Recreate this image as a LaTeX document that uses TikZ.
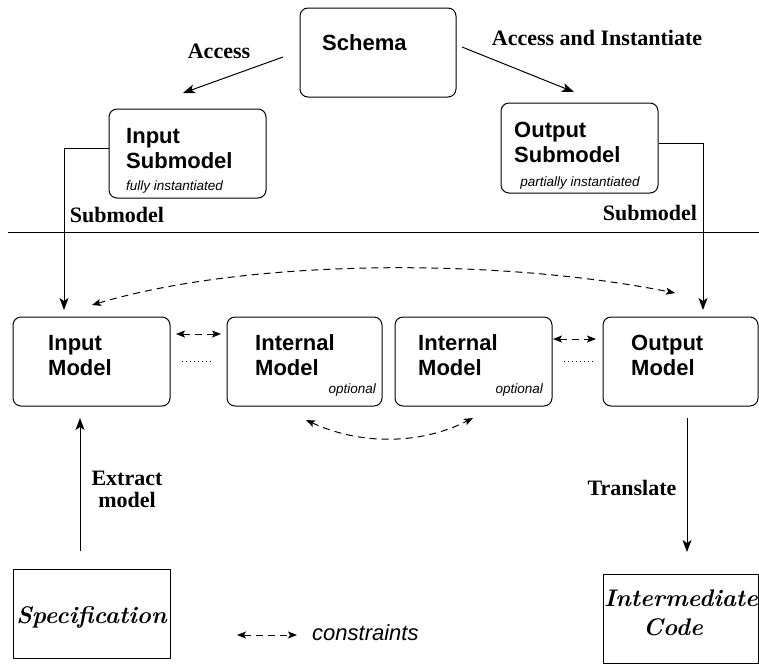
\documentclass[tikz,border=0pt]{standalone}
\usepackage{fontspec}
\newfontfamily\serifb{Liberation Serif}
\newfontfamily\sansf{Liberation Sans}
\usetikzlibrary{arrows.meta}
\begin{document}
\begin{tikzpicture}[x=1pt,y=-1pt,
 box/.style={draw, line width=1pt, rounded corners=8pt, inner sep=0pt},
 plainbox/.style={draw, line width=1pt, inner sep=0pt},
 lab/.style={inner sep=0pt, anchor=base west, font=\sansf\bfseries\fontsize{22}{25}\selectfont},
 small/.style={inner sep=0pt, font=\sansf\itshape\fontsize{13.5}{15}\selectfont},
 elab/.style={inner sep=0pt, anchor=base, font=\serifb\bfseries\fontsize{22}{25}\selectfont},
 ital/.style={inner sep=0pt, anchor=base, font=\bfseries\itshape\fontsize{24}{28}\selectfont},
 arr/.style={line width=1pt, -{Stealth[length=12pt,width=9pt,inset=3pt]}},
 darr/.style={line width=1pt, dash pattern=on 7pt off 5pt, {Stealth[length=9pt,width=7pt,inset=2pt]}-{Stealth[length=9pt,width=7pt,inset=2pt]}},
 dotl/.style={line width=0.6pt, dash pattern=on 1pt off 3pt}
 ]
\useasboundingbox (0,0) rectangle (759,665);

% boxes
\node[box, minimum width=156pt, minimum height=89pt] (schema) at (378,52.5) {};
\node[box, minimum width=157pt, minimum height=89pt] (insub) at (187.5,153.5) {};
\node[box, minimum width=157pt, minimum height=90pt] (outsub) at (579.5,148) {};
\node[box, minimum width=157pt, minimum height=89pt] (inmodel) at (91.5,361.5) {};
\node[box, minimum width=155pt, minimum height=89pt] (int1) at (304.5,361.5) {};
\node[box, minimum width=157pt, minimum height=89pt] (int2) at (473.5,361.5) {};
\node[box, minimum width=155pt, minimum height=89pt] (outmodel) at (680.5,361.5) {};
\node[plainbox, minimum width=157pt, minimum height=89pt] (spec) at (91.5,613.5) {};
\node[plainbox, minimum width=155pt, minimum height=89pt] (inter) at (680.5,618.5) {};

% box texts
\node[lab] (schemaT) at (322,50) {Schema};
\node[lab] (insubA) at (126,143) {Input};
\node[lab] (insubB) at (126,168) {Submodel};
\node[small, anchor=base west] (insubC) at (126,190) {fully instantiated};
\node[lab] (outsubA) at (514,137) {Output};
\node[lab] (outsubB) at (514,162) {Submodel};
\node[small, anchor=base] (outsubC) at (580,186) {partially instantiated};
\node[lab] (inmA) at (48,350) {Input};
\node[lab] (inmB) at (48,375) {Model};
\node[lab] (i1A) at (255,350) {Internal};
\node[lab] (i1B) at (255,375) {Model};
\node[small, anchor=base east] (i1C) at (376,393) {optional};
\node[lab] (i2A) at (418,350) {Internal};
\node[lab] (i2B) at (418,375) {Model};
\node[small, anchor=base east] (i2C) at (543,393) {optional};
\node[lab] (omA) at (631,350) {Output};
\node[lab] (omB) at (631,375) {Model};
\node[ital] (specT) at (91.5,623) {Specification};
\node[ital] (interA) at (681,606) {Intermediate};
\node[ital] (interB) at (673,635) {Code};

% edge labels
\node[elab] (accL) at (219,58) {Access};
\node[elab] (accIL) at (597,45) {Access and Instantiate};
\node[elab] (subL) at (117,222) {Submodel};
\node[elab] (subR) at (650,220) {Submodel};
\node[elab] (extA) at (127,485) {Extract};
\node[elab] (extB) at (127,507) {model};
\node[elab] (trL) at (632,495) {Translate};

% separator
\coordinate (sepL) at (8,232);
\coordinate (sepR) at (759,232);
\draw[line width=0.8pt] (sepL) -- (sepR);

% access arrows
\coordinate (a1s) at (283,57);
\coordinate (a1e) at (183,93);
\coordinate (a2s) at (462,47);
\coordinate (a2e) at (574,92);
\draw[arr] (a1s) -- (a1e);
\draw[arr] (a2s) -- (a2e);

% submodel connectors
\coordinate (inTop) at (64,310);
\coordinate (outTop) at (703,310);
\draw[arr] ([yshift=5.5pt]insub.west) -| (inTop);
\draw[arr] ([yshift=5pt]outsub.east) -| (outTop);

% constraints
\coordinate (bigL) at (92,305);
\coordinate (bigR) at (675,293);
\draw[darr] (bigL) .. controls (250,258) and (500,258) .. (bigR);
\coordinate (lowL) at (306,420);
\coordinate (lowR) at (473,418);
\draw[darr] (lowL) .. controls (360,445) and (420,445) .. (lowR);
\coordinate (c1a) at (176,334);
\coordinate (c1b) at (221,334);
\draw[darr] (c1a) -- (c1b);
\coordinate (c2a) at (553,339);
\coordinate (c2b) at (596,339);
\draw[darr] (c2a) -- (c2b);

% dotted
\coordinate (d1a) at (182,361);
\coordinate (d1b) at (212,361);
\draw[dotl] (d1a) -- (d1b);
\coordinate (d2a) at (564,361);
\coordinate (d2b) at (594,361);
\draw[dotl] (d2a) -- (d2b);

% extract / translate
\coordinate (exS) at (80,551);
\coordinate (exE) at (80,418);
\draw[arr] (exS) -- (exE);
\coordinate (trS) at (687,418);
\coordinate (trE) at (687,552);
\draw[arr] (trS) -- (trE);

% legend
\coordinate (lgA) at (237,635);
\coordinate (lgB) at (297,635);
\draw[darr] (lgA) -- (lgB);
\node[inner sep=0pt, anchor=base west, font=\sansf\itshape\fontsize{22}{25}\selectfont] (lgT) at (312,640) {constraints};
\end{tikzpicture}
\end{document}
